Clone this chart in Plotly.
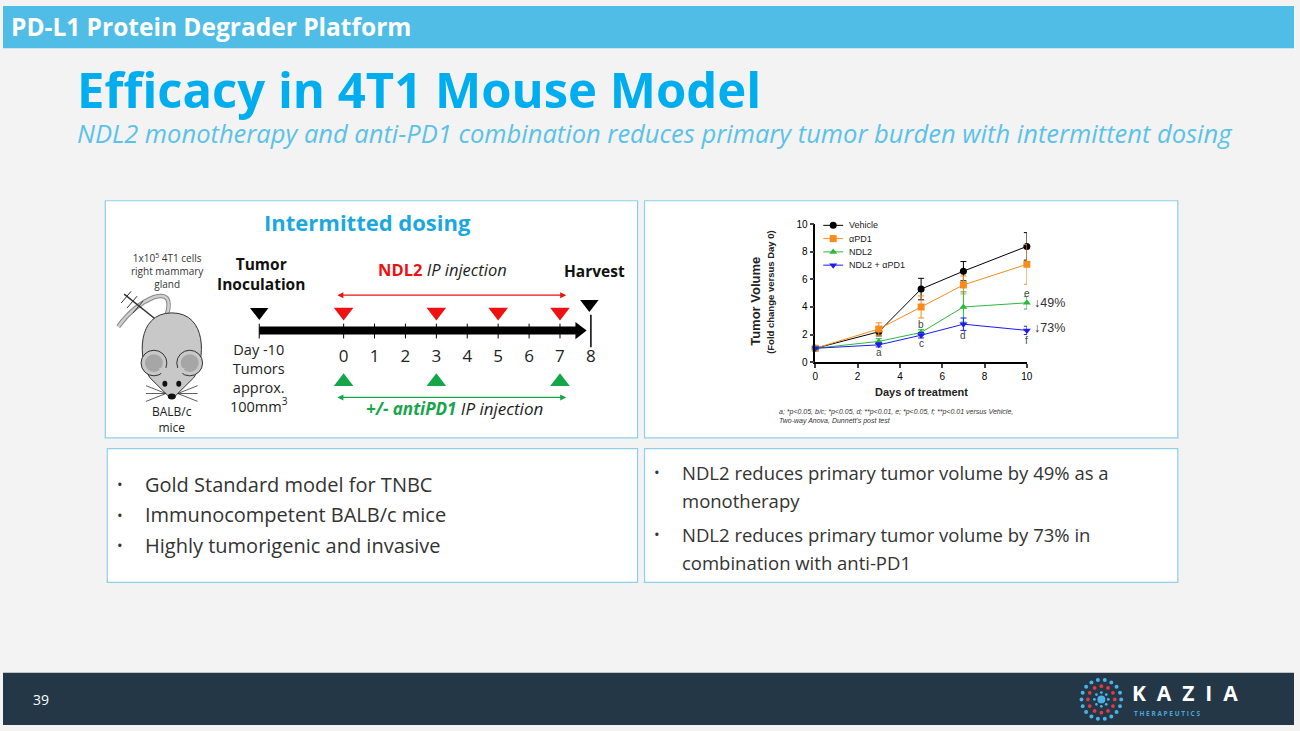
import math
import plotly.graph_objects as go

W, H = 1300, 731

# ----- tumour volume data (fold change vs day 0) -----
days = [0, 3, 5, 7, 10]
vehicle = [1.0, 2.2, 5.3, 6.6, 8.4]
vehicle_err = [0.1, 0.3, 0.78, 0.7, 1.0]
apd1 = [1.0, 2.4, 4.0, 5.6, 7.1]
apd1_err = [0.1, 0.45, 0.8, 0.65, 1.45]
ndl2 = [1.0, 1.5, 2.15, 4.0, 4.3]
ndl2_err = [0.1, 0.2, 0.2, 1.1, 0.45]
combo = [1.0, 1.25, 1.95, 2.75, 2.3]
combo_err = [0.05, 0.15, 0.2, 0.45, 0.3]

sig_labels = ['a', 'b', 'c', 'd', 'e', 'f']
sig_days = [3, 5, 5, 7, 10, 10]
sig_y = [0.7, 2.75, 1.35, 1.95, 4.95, 1.55]

# ----- dosing schedule -----
timeline_days = [0, 1, 2, 3, 4, 5, 6, 7, 8]
ndl2_days = [0, 3, 5, 7]
pd1_days = [0, 3, 7]
harvest_day = 8

# bullets
left_bullets = ["Gold Standard model for TNBC", "Immunocompetent BALB/c mice",
                "Highly tumorigenic and invasive"]
right_bullets = ["NDL2 reduces primary tumor volume by 49% as a", "monotherapy",
                 "NDL2 reduces primary tumor volume by 73% in", "combination with anti-PD1"]

FONT = "Open Sans"
BLUE = "#00AEEF"

fig = go.Figure()


def fx(x):
    return x / W


def fy(y):
    return 1 - y / H


# ----- main chart -----
series = [
    ("Vehicle", vehicle, vehicle_err, "#000000", "circle"),
    ("\u03b1PD1", apd1, apd1_err, "#FA8A1C", "square"),
    ("NDL2", ndl2, ndl2_err, "#2DB83D", "triangle-up"),
    ("NDL2 + \u03b1PD1", combo, combo_err, "#1C1CF2", "triangle-down"),
]
for name, vals, err, col, sym in series:
    fig.add_trace(go.Scatter(
        x=days, y=vals, name=name, mode="lines+markers",
        line=dict(color=col, width=1),
        marker=dict(color=col, symbol=sym, size=7),
        error_y=dict(type="data", array=err, color=col, thickness=1, width=3),
        cliponaxis=False, showlegend=False, xaxis="x", yaxis="y"))

# hand-made compact legend (pixel axes)
for i, (name, vals, err, col, sym) in enumerate(series):
    ly_ = 223 + 13.5 * i
    fig.add_trace(go.Scatter(x=[826, 846], y=[ly_, ly_], mode="lines", line=dict(color=col, width=1),
                             showlegend=False, hoverinfo="skip", xaxis="x2", yaxis="y2"))
    fig.add_trace(go.Scatter(x=[836], y=[ly_], mode="markers", marker=dict(color=col, symbol=sym, size=7),
                             showlegend=False, hoverinfo="skip", xaxis="x2", yaxis="y2"))
    fig.add_annotation(x=850, y=ly_, xref="x2", yref="y2", text=name, showarrow=False,
                       xanchor="left", yanchor="middle",
                       font=dict(family="Arial", size=9, color="#222"))

for lab, d, yv in zip(sig_labels, sig_days, sig_y):
    fig.add_annotation(x=d, y=yv, text=lab, showarrow=False, xref="x", yref="y",
                       font=dict(family="Arial", size=10, color="#444"))

fig.add_annotation(x=days[-1], y=ndl2[-1], text="\u219349%", showarrow=False, xref="x", yref="y",
                   xanchor="left", xshift=5, font=dict(family="Arial", size=12.5, color="#333"))
fig.add_annotation(x=days[-1], y=combo[-1], text="\u219373%", showarrow=False, xref="x", yref="y",
                   xanchor="left", xshift=5, yshift=2, font=dict(family="Arial", size=12.5, color="#333"))

# ----- timeline (days axis) -----
tick_x, tick_y = [], []
for d in [-2.73] + timeline_days[:-1]:
    tick_x += [d, d, None]
    tick_y += [323, 338, None]
fig.add_trace(go.Scatter(x=[-2.73, 7.6], y=[330, 330], mode="lines",
                         line=dict(color="black", width=8), showlegend=False,
                         xaxis="x3", yaxis="y2", hoverinfo="skip"))
fig.add_trace(go.Scatter(x=[7.62], y=[330], mode="markers",
                         marker=dict(symbol="triangle-right", size=15, color="black"),
                         showlegend=False, xaxis="x3", yaxis="y2", hoverinfo="skip"))
fig.add_trace(go.Scatter(x=tick_x, y=tick_y, mode="lines", line=dict(color="black", width=1),
                         showlegend=False, xaxis="x3", yaxis="y2", hoverinfo="skip"))
fig.add_trace(go.Scatter(x=[harvest_day, harvest_day], y=[314, 347], mode="lines",
                         line=dict(color="black", width=1.5),
                         showlegend=False, xaxis="x3", yaxis="y2", hoverinfo="skip"))
fig.add_trace(go.Scatter(x=timeline_days, y=[358] * len(timeline_days), mode="text",
                         text=[str(d) for d in timeline_days],
                         textfont=dict(family=FONT, size=17, color="#222"),
                         showlegend=False, xaxis="x3", yaxis="y2", hoverinfo="skip"))
fig.add_trace(go.Scatter(x=ndl2_days, y=[311] * len(ndl2_days), mode="markers",
                         marker=dict(symbol="triangle-down", size=17, color="#EE1111"),
                         showlegend=False, xaxis="x3", yaxis="y2", hoverinfo="skip"))
fig.add_trace(go.Scatter(x=pd1_days, y=[382] * len(pd1_days), mode="markers",
                         marker=dict(symbol="triangle-up", size=17, color="#16A64A"),
                         showlegend=False, xaxis="x3", yaxis="y2", hoverinfo="skip"))
fig.add_trace(go.Scatter(x=[-2.73, harvest_day - 0.05], y=[311, 303], mode="markers",
                         marker=dict(symbol="triangle-down", size=16, color="black"),
                         showlegend=False, xaxis="x3", yaxis="y2", hoverinfo="skip"))

for yy, col in [(294, "#EE1111"), (398, "#16A64A")]:
    fig.add_annotation(x=7.2, y=yy, ax=-0.25, ay=yy, xref="x3", yref="y2", axref="x3", ayref="y2",
                       text="", showarrow=True, arrowhead=2, arrowside="end+start",
                       arrowsize=1, arrowwidth=1.2, arrowcolor=col)

# ----- slide decoration -----
shapes = []
# header / footer bands
shapes.append(dict(type="rect", xref="paper", yref="paper", x0=0, x1=1, y0=fy(43), y1=1,
                   fillcolor="#50BDE6", line_width=0, layer="below"))
shapes.append(dict(type="rect", xref="paper", yref="paper", x0=0, x1=1, y0=0, y1=fy(678),
                   fillcolor="#243746", line_width=0, layer="below"))
# panels
for x0, y0, x1, y1 in [(103, 198, 639, 439), (646, 198, 1183, 439),
                       (105, 450, 639, 586), (646, 450, 1183, 586)]:
    shapes.append(dict(type="rect", xref="paper", yref="paper", x0=fx(x0), x1=fx(x1),
                       y0=fy(y1), y1=fy(y0), fillcolor="white",
                       line=dict(color="#8ECFEA", width=1.2), layer="below"))

# mouse drawing (pixel axes)
P = dict(xref="x2", yref="y2", layer="above")
shapes.append(dict(type="path", path="M 165 314 Q 172 290 152 296 Q 132 304 116 326",
                   line=dict(color="#888", width=4.5), **P))
shapes.append(dict(type="path", path="M 165 314 Q 172 290 152 296 Q 132 304 116 326",
                   line=dict(color="#cfcfcf", width=2.5), **P))
shapes.append(dict(type="line", x0=122, y0=293, x1=153, y1=318, line=dict(color="#333", width=1.5), **P))
for cx, cy in [(124, 296), (130, 301), (136, 306)]:
    shapes.append(dict(type="line", x0=cx - 5, y0=cy + 6, x1=cx + 5, y1=cy - 6,
                       line=dict(color="#333", width=1), **P))
shapes.append(dict(type="path",
                   path="M 170 312 C 206 312 204 360 192 378 L 173 397 L 167 397 L 148 378 C 136 360 134 312 170 312 Z",
                   fillcolor="#C8C8C8", line=dict(color="#333", width=1), **P))
for cx in [152, 188]:
    shapes.append(dict(type="circle", x0=cx - 13, x1=cx + 13, y0=350, y1=376,
                       fillcolor="#C8C8C8", line=dict(color="#333", width=1), **P))
    shapes.append(dict(type="circle", x0=cx - 9, x1=cx + 9, y0=354, y1=372,
                       fillcolor="#A6A6A6", line_width=0, **P))
shapes.append(dict(type="path", path="M 157 368 L 170 398 L 183 368 Z",
                   fillcolor="#C8C8C8", line_width=0, **P))
for cx in [163, 177]:
    shapes.append(dict(type="circle", x0=cx - 2.5, x1=cx + 2.5, y0=381, y1=387,
                       fillcolor="#111", line_width=0, **P))
shapes.append(dict(type="circle", x0=166, x1=174, y0=394, y1=400, fillcolor="#111", line_width=0, **P))
for sgn in [-1, 1]:
    for dy in [-4, 0, 4]:
        shapes.append(dict(type="line", x0=170 + sgn * 6, y0=394, x1=170 + sgn * 26, y1=394 + dy * 2,
                           line=dict(color="#333", width=0.8), **P))

# Kazia logo dots
lx, ly = 1106, 705
for r, n, col, s in [(20, 18, "#4DB3E6", 2.0), (13.5, 12, "#E23B45", 1.9), (7, 8, "#4DB3E6", 1.4)]:
    for k in range(n):
        a = 2 * math.pi * k / n
        cx, cy = lx + r * math.cos(a), ly + r * math.sin(a)
        shapes.append(dict(type="circle", x0=cx - s, x1=cx + s, y0=cy - s, y1=cy + s,
                           fillcolor=col, line_width=0, **P))
shapes.append(dict(type="circle", x0=lx - 4, x1=lx + 4, y0=ly - 4, y1=ly + 4,
                   fillcolor="#4DB3E6", line_width=0, **P))

fig.update_layout(shapes=shapes)


def txt(x, y, text, size, color="#222", family=FONT, xanchor="left", align="left", **kw):
    fig.add_annotation(x=x, y=y, xref="x2", yref="y2", text=text, showarrow=False,
                       xanchor=xanchor, yanchor="middle", align=align,
                       font=dict(family=family, size=size, color=color), **kw)


txt(6, 21, "<b>PD-L1 Protein Degrader Platform</b>", 24.5, color="white")
txt(72, 84, "<b>Efficacy in 4T1 Mouse Model</b>", 49, color=BLUE)
txt(73, 129, "<i>NDL2 monotherapy and anti-PD1 combination reduces primary tumor burden with intermittent dosing</i>",
    25.5, color="#5BC2E7")

# diagram texts
txt(367, 220, "<b>Intermitted dosing</b>", 22, color="#1BA8E0", xanchor="center")
txt(166, 269, "1x10<sup>5</sup> 4T1 cells<br>right mammary<br>gland", 10, xanchor="center", align="center",
    color="#333")
txt(260, 272, "<b>Tumor<br>Inoculation</b>", 15.5, xanchor="center", align="center", color="#111")
txt(443, 268, "<b><span style='color:#EE1111'>NDL2</span></b> <i>IP injection</i>", 16.5, xanchor="center")
txt(596, 269, "<b>Harvest</b>", 15.5, xanchor="center", color="#111")
txt(258, 378, "Day -10<br>Tumors<br>approx.<br>100mm<sup>3</sup>", 14.5, xanchor="center", align="center")
txt(455, 409, "<b><i><span style='color:#16A64A'>+/- antiPD1</span></i></b> <i>IP injection</i>", 17,
    xanchor="center")
txt(170, 420, "BALB/c<br>mice", 12, xanchor="center", align="center", color="#222")

# chart texts
txt(757, 300, "<b>Tumor Volume</b>", 13, family="Arial", xanchor="center", textangle=-90)
txt(773, 291, "<b>(Fold change versus Day 0)</b>", 9.5, family="Arial", xanchor="center", textangle=-90)
txt(925, 392, "<b>Days of treatment</b>", 11, family="Arial", xanchor="center")
txt(779, 417, "<i>a; *p<0.05, b/c; *p<0.05, d; **p<0.01, e; *p<0.05, f; **p<0.01 versus Vehicle,<br>"
    "Two-way Anova, Dunnett's post test</i>", 7, family="Arial", color="#333")

# bullets
for i, t in enumerate(left_bullets):
    yy = 486 + 31 * i
    txt(113, yy, "\u2022", 15, color="#333")
    txt(141, yy, t, 20, color="#333")
for yy, t in zip([474, 503, 537, 566], right_bullets):
    if t.startswith("NDL2"):
        txt(654, yy, "\u2022", 15, color="#333")
    txt(682, yy, t, 18.5, color="#333")

# footer
txt(28, 705, "39", 14, color="white")
txt(1135, 698, "<b>K  A  Z  I  A</b>", 21, color="white")
txt(1137, 719, "<b>T H E R A P E U T I C S</b>", 6.5, color="#4DA6D8")

fig.update_layout(
    width=W, height=H, margin=dict(l=0, r=0, t=0, b=0),
    paper_bgcolor="#F3F3F3", plot_bgcolor="rgba(0,0,0,0)",
    showlegend=False,
    xaxis=dict(domain=[fx(818), fx(1031)], range=[0, 10], tickvals=[0, 2, 4, 6, 8, 10],
               showline=True, linecolor="black", linewidth=1.5, ticks="outside", ticklen=4,
               tickwidth=1.5, showgrid=False, zeroline=False, anchor="y",
               tickfont=dict(family="Arial", size=10, color="black"), tickprefix="<b>", ticksuffix="</b>"),
    yaxis=dict(domain=[fy(362), fy(222)], range=[0, 10], tickvals=[0, 2, 4, 6, 8, 10],
               showline=True, linecolor="black", linewidth=1.5, ticks="outside", ticklen=4,
               tickwidth=1.5, showgrid=False, zeroline=False, anchor="x",
               tickfont=dict(family="Arial", size=10, color="black"), tickprefix="<b>", ticksuffix="</b>"),
    xaxis2=dict(domain=[0, 1], range=[0, W], visible=False, anchor="y2", fixedrange=True),
    yaxis2=dict(domain=[0, 1], range=[H, 0], visible=False, anchor="x2", fixedrange=True),
    xaxis3=dict(domain=[0, 1], range=[-343 / 31.125, (W - 343) / 31.125], visible=False,
                anchor="y2", fixedrange=True),
)

fig.write_html("out.html", config={"displayModeBar": False},
               post_script="document.body.style.margin='0';document.body.style.overflow='hidden';")
